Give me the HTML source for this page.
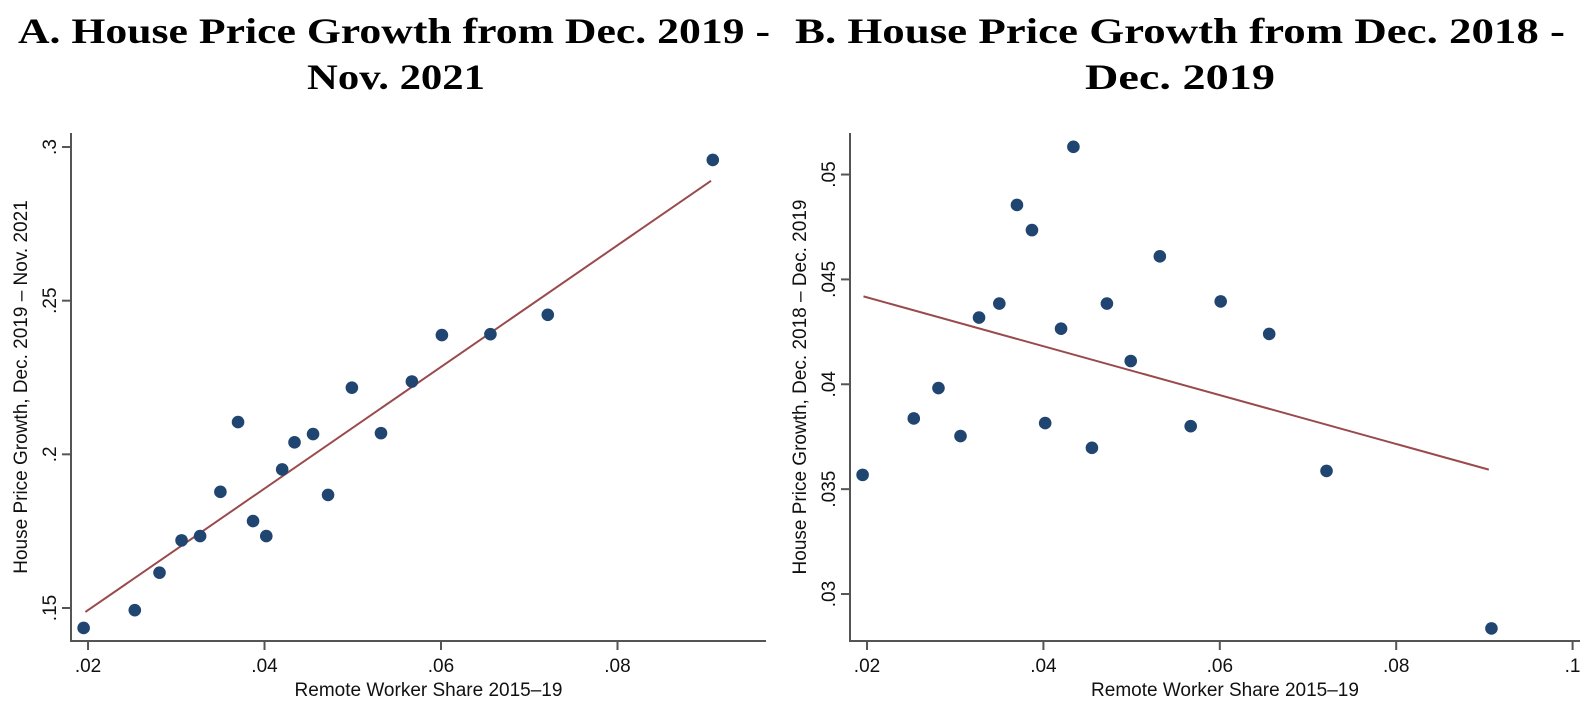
<!DOCTYPE html>
<html><head><meta charset="utf-8"><style>
html,body{margin:0;padding:0;background:#fff;}
svg{display:block;}
.title{font-family:"Liberation Serif",serif;font-weight:bold;font-size:36px;fill:#000;}
.tick{font-family:"Liberation Sans",sans-serif;font-size:19px;fill:#111;}
.axt{font-family:"Liberation Sans",sans-serif;font-size:19px;fill:#111;}
</style></head><body>
<svg id="chart" width="1588" height="708" viewBox="0 0 1588 708" xmlns="http://www.w3.org/2000/svg">
<text class="title" x="394" y="43" text-anchor="middle" textLength="752" lengthAdjust="spacingAndGlyphs">A. House Price Growth from Dec. 2019 -</text>
<text class="title" x="396" y="89" text-anchor="middle" textLength="178" lengthAdjust="spacingAndGlyphs">Nov. 2021</text>
<text class="title" x="1180" y="43" text-anchor="middle" textLength="770" lengthAdjust="spacingAndGlyphs">B. House Price Growth from Dec. 2018 -</text>
<text class="title" x="1180" y="89" text-anchor="middle" textLength="190" lengthAdjust="spacingAndGlyphs">Dec. 2019</text>
</svg>
<script>
// shared x data (remote worker share)
const remoteShare = [.0195,.0253,.0281,.0306,.0327,.0350,.0370,.0387,.0402,.0420,.0434,.0455,.0472,.0499,.0532,.0567,.0601,.0656,.0721,.0908];
const growthA = [.1435,.1493,.1615,.1720,.1734,.1878,.2105,.1783,.1734,.1951,.2039,.2066,.1868,.2217,.2069,.2237,.2388,.2391,.2454,.2958];
const growthB = [.03568,.03837,.03982,.03753,.04318,.04385,.04855,.04735,.03815,.04265,.05132,.03697,.04385,.04111,.0461,.0380,.04395,.0424,.03587,.02836];
const fitA = [[.0197,.1487],[.0906,.2890]];
const fitB = [[.0196,.04419],[.0905,.03593]];
const xTicksA = [.02,.04,.06,.08];
const xTickLabelsA = [".02",".04",".06",".08"];
const yTicksA = [.15,.2,.25,.3];
const yTickLabelsA = [".15",".2",".25",".3"];
const xTicksB = [.02,.04,.06,.08,.1];
const xTickLabelsB = [".02",".04",".06",".08",".1"];
const yTicksB = [.03,.035,.04,.045,.05];
const yTickLabelsB = [".03",".035",".04",".045",".05"];

const NS="http://www.w3.org/2000/svg";
const svg=document.getElementById('chart');
function mk(tag,attrs,parent){const e=document.createElementNS(NS,tag);for(const k in attrs)e.setAttribute(k,attrs[k]);(parent||svg).appendChild(e);return e;}

function panel(cfg){
  const g=mk('g',{});
  
  
  const sx=v=>cfg.x0+(v-cfg.xmin)/(cfg.xmax-cfg.xmin)*(cfg.x1-cfg.x0);
  const sy=v=>cfg.y0-(v-cfg.ymin)/(cfg.ymax-cfg.ymin)*(cfg.y0-cfg.y1);
  const ax='#555';
  const yl=mk('line',{x1:cfg.x0,y1:cfg.y1,x2:cfg.x0,y2:cfg.y0,stroke:ax,'stroke-width':2},g);
   
  const xl=mk('line',{x1:cfg.x0-1,y1:cfg.y0,x2:cfg.x1,y2:cfg.y0,stroke:ax,'stroke-width':2},g);
   
  cfg.xt.forEach((v,i)=>{
    const x=sx(v);
    const t=mk('line',{x1:x,y1:cfg.y0,x2:x,y2:cfg.y0+9,stroke:ax,'stroke-width':2},g);
     
    const l=mk('text',{class:'tick',x:x,y:cfg.y0+31,'text-anchor':'middle'},g);
    l.textContent=cfg.xl[i];
     
  });
  cfg.yt.forEach((v,i)=>{
    const y=sy(v);
    const t=mk('line',{x1:cfg.x0-9,y1:y,x2:cfg.x0,y2:y,stroke:ax,'stroke-width':2},g);
     
    const lx=cfg.x0-15;
    const l=mk('text',{class:'tick',x:lx,y:y,'text-anchor':'middle',transform:`rotate(-90 ${lx} ${y})`},g);
    l.textContent=cfg.yl[i];
     
  });
  const xt=mk('text',{class:'axt',x:(cfg.x0+cfg.x1)/2+10,y:cfg.y0+55,'text-anchor':'middle'},g);
  xt.textContent='Remote Worker Share 2015\u201319';
   
  const tx=cfg.x0-44, ty=(cfg.y0+cfg.y1)/2;
  const yt=mk('text',{class:'axt',x:tx,y:ty,'text-anchor':'middle',transform:`rotate(-90 ${tx} ${ty})`},g);
  yt.textContent=cfg.ytitle;
   
  const fl=mk('line',{x1:sx(cfg.fit[0][0]),y1:sy(cfg.fit[0][1]),x2:sx(cfg.fit[1][0]),y2:sy(cfg.fit[1][1]),stroke:'#9a4a4c','stroke-width':2},g);
   
  cfg.xs.forEach((v,i)=>{
    const c=mk('circle',{cx:sx(v),cy:sy(cfg.ys[i]),r:6.3,fill:'#1f4570'},g);
     
  });
}
panel({name:'panel-a',x0:71,x1:766,y0:641,y1:133,xmin:.01807,xmax:.09683,ymin:.13926,ymax:.30456,
  xt:xTicksA,xl:xTickLabelsA,yt:yTicksA,yl:yTickLabelsA,xs:remoteShare,ys:growthA,fit:fitA,
  ytitle:'House Price Growth, Dec. 2019 \u2013 Nov. 2021'});
panel({name:'panel-b',x0:850,x1:1580,y0:641,y1:133,xmin:.01807,xmax:.10084,ymin:.02776,ymax:.05198,
  xt:xTicksB,xl:xTickLabelsB,yt:yTicksB,yl:yTickLabelsB,xs:remoteShare,ys:growthB,fit:fitB,
  ytitle:'House Price Growth, Dec. 2018 \u2013 Dec. 2019'});
</script>
</body></html>
